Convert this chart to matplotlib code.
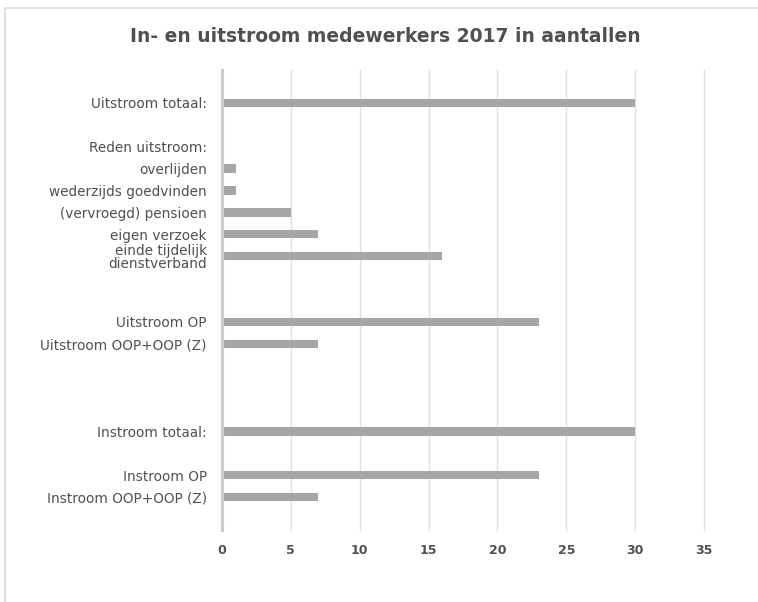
import numpy as np
import matplotlib.pyplot as plt
from matplotlib.patches import Rectangle

# categorieën van boven naar beneden; lege strings zijn lege rijen
labels = [
    "Uitstroom totaal:", "", "Reden uitstroom:", "overlijden",
    "wederzijds goedvinden", "(vervroegd) pensioen", "eigen verzoek",
    "einde tijdelijk\ndienstverband", "", "", "Uitstroom OP",
    "Uitstroom OOP+OOP (Z)", "", "", "", "Instroom totaal:", "",
    "Instroom OP", "Instroom OOP+OOP (Z)",
]
values = [30, 0, 0, 1, 1, 5, 7, 16, 0, 0, 23, 7, 0, 0, 0, 30, 0, 23, 7]
xticks = [0, 5, 10, 15, 20, 25, 30, 35]

tekst = "#505050"

fig = plt.figure(figsize=(7.58, 6.02), dpi=100)
fig.patch.set_facecolor("white")

# lichtgrijze kader rond de grafiek
fig.patches.append(Rectangle((5 / 758, -0.05), 1.2, (602 - 8) / 602 + 0.05,
                             transform=fig.transFigure, fill=False,
                             edgecolor="#d9d9d9", linewidth=1.2))

ax = fig.add_axes([222 / 758, 1 - 530 / 602, (704 - 222) / 758, 460 / 602])

y = np.arange(len(labels))
ax.barh(y, values, height=0.38, color="#a6a6a6", zorder=3)

ax.set_xlim(0, 35)
ax.set_ylim(len(labels) + 0.5, -1.5)
ax.set_xticks(xticks)
ax.set_xticklabels([str(t) for t in xticks], fontsize=9, fontweight="bold", color=tekst)
ax.set_yticks(y)
ax.set_yticklabels(labels, fontsize=9.8, color=tekst, linespacing=0.9)
ax.tick_params(axis="both", length=0)
ax.tick_params(axis="y", pad=11)
ax.tick_params(axis="x", pad=10)

ax.grid(axis="x", color="#e0e0e0", linewidth=1.0, zorder=0)
# laatste rasterlijn op de rand niet afknippen
for gl in ax.get_xgridlines():
    gl.set_clip_on(False)
for s in ["top", "right", "bottom"]:
    ax.spines[s].set_visible(False)
ax.spines["left"].set_color("#cccccc")
ax.spines["left"].set_linewidth(2.2)
ax.spines["left"].set_zorder(4)

fig.text(385 / 758, 1 - 36 / 602, "In- en uitstroom medewerkers 2017 in aantallen",
         ha="center", va="center", fontsize=13.5, fontweight="bold", color="#505050")

fig.savefig("out.png", dpi=100)
